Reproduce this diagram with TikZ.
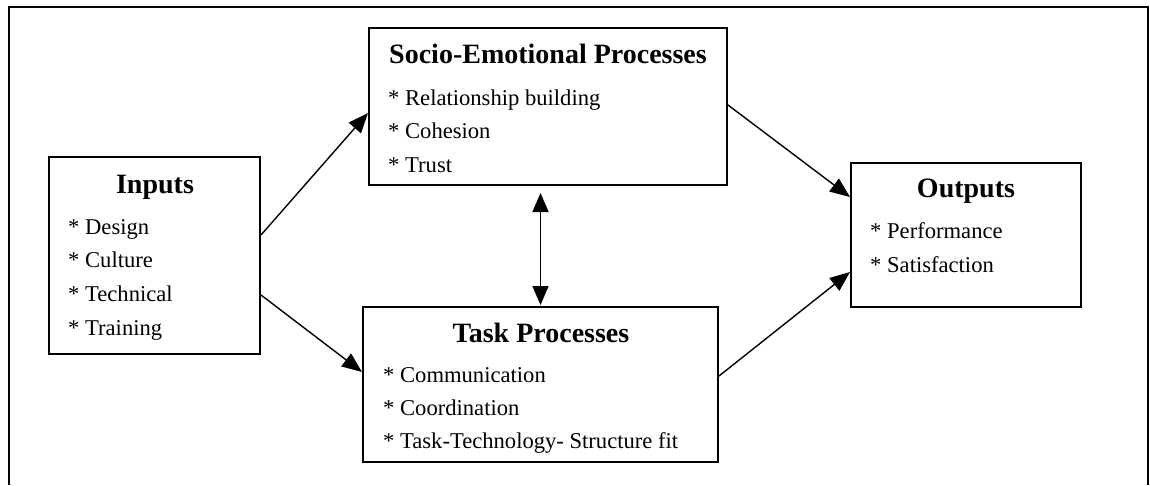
\documentclass[tikz,border=0pt]{standalone}
\usepackage{fontspec}
\setmainfont{Liberation Serif}
\usetikzlibrary{positioning, calc, arrows.meta}
\tikzset{
  box/.style={draw, line width=2pt, inner sep=0pt},
  title/.style={anchor=base, font=\fontsize{28}{31}\selectfont\bfseries, inner sep=0pt},
  item/.style={anchor=base west, font=\fontsize{22.6}{27}\selectfont, inner sep=0pt},
  link/.style={line width=1.4pt, -{Triangle[length=20pt, width=16pt]}},
  both/.style={line width=1.6pt, {Triangle[length=19pt, width=16pt]}-{Triangle[length=19pt, width=16pt]}},
}

\begin{document}
\begin{tikzpicture}[x=1pt, y=-1pt]
      \useasboundingbox (0,0) rectangle (1150,485);
      \draw[line width=1.3pt] (9,485) -- (9,7) -- (1148,7) -- (1148,485);

      \node[box, minimum width=211pt, minimum height=197pt] (inputs) at (154.5,255.5) {};
      \node[box, minimum width=358pt, minimum height=157pt] (socio) at (548,106.5) {};
      \node[box, minimum width=355pt, minimum height=155pt] (task) at (540.5,384.5) {};
      \node[box, minimum width=230pt, minimum height=144pt] (outputs) at (966,235) {};

      \node[title] (inputsT) at (155,193) {Inputs};
      \node[item] (inputs1) at (68,234) {* Design};
      \node[item] (inputs2) at (68,267) {* Culture};
      \node[item] (inputs3) at (68,301) {* Technical};
      \node[item] (inputs4) at (68,335) {* Training};

      \node[title] (socioT) at (548,63) {Socio-Emotional Processes};
      \node[item] (socio1) at (388,105) {* Relationship building};
      \node[item] (socio2) at (388,138) {* Cohesion};
      \node[item] (socio3) at (388,172) {* Trust};

      \node[title] (taskT) at (541,342) {Task Processes};
      \node[item] (task1) at (383,382) {* Communication};
      \node[item] (task2) at (383,415) {* Coordination};
      \node[item] (task3) at (383,448) {* Task-Technology- Structure fit};

      \node[title] (outputsT) at (966,197) {Outputs};
      \node[item] (outputs1) at (870,238) {* Performance};
      \node[item] (outputs2) at (870,272) {* Satisfaction};

      \draw[link] ([yshift=20.5pt]inputs.east) -- ([yshift=-6.5pt]socio.west);
      \draw[link] ([yshift=-39.5pt]inputs.east) -- ([yshift=12.5pt]task.west);
      \draw[link] ([yshift=1.5pt]socio.east) -- ([yshift=38pt]outputs.west);
      \draw[link] ([yshift=8.5pt]task.east) -- ([yshift=-37pt]outputs.west);
      \draw[both, shorten <=7pt, shorten >=1pt] (task.north |- socio.south) -- (task.north);
    \end{tikzpicture}
\end{document}
